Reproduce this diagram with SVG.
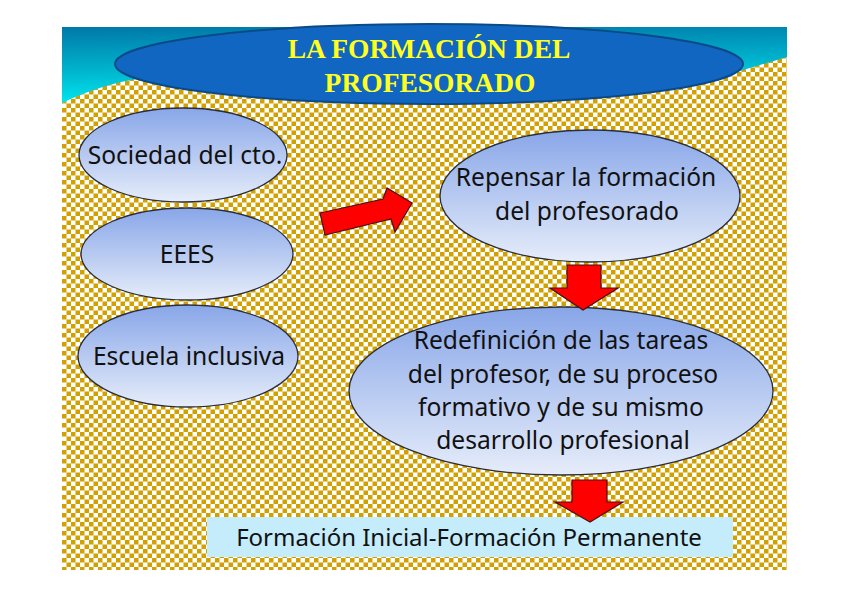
<svg xmlns="http://www.w3.org/2000/svg" width="848" height="599" viewBox="0 0 848 599">
<defs>
<pattern id="checker" x="62" y="27" width="9" height="9" patternUnits="userSpaceOnUse">
<rect width="9" height="9" fill="#ffffff"/>
<rect width="4.5" height="4.5" fill="#D2A000"/>
<rect x="4.5" y="4.5" width="4.5" height="4.5" fill="#D2A000"/>
</pattern>
<linearGradient id="teal" x1="0" y1="0" x2="0.15" y2="1">
<stop offset="0" stop-color="#0078A8"/>
<stop offset="0.6" stop-color="#00B8D0"/>
<stop offset="1" stop-color="#00E8F0"/>
</linearGradient>
<linearGradient id="bubble" x1="0" y1="0" x2="0" y2="1">
<stop offset="0" stop-color="#88A6E8"/>
<stop offset="1" stop-color="#E6EDFA"/>
</linearGradient>
<style>
.node{fill:url(#bubble);stroke:#2A2E3A;stroke-width:1.3}
.lbl{font-family:"Noto Sans","Open Sans",sans-serif;font-size:24.6px;fill:#111111;text-anchor:middle}
.arrow{fill:#FF0000;stroke:#4A1010;stroke-width:1.2;stroke-linejoin:miter}
.title{font-family:"Liberation Serif","Times New Roman",serif;font-weight:bold;font-size:27.5px;fill:#FFFF22;text-anchor:middle}
</style>
</defs>
<rect width="848" height="599" fill="#ffffff"/>
<rect x="62" y="27" width="725" height="543" fill="url(#checker)"/>
<path d="M62,27 H787 V57 L740,71 Q600,105 430,100 Q250,92 160,76 Q110,80 62,103 Z" fill="url(#teal)"/>
<g id="title">
<ellipse cx="429" cy="64" rx="314" ry="40" fill="#1066C0" stroke="#0B4A88" stroke-width="2"/>
<text class="title" x="429" y="58">LA FORMACIÓN DEL</text>
<text class="title" x="430" y="92">PROFESORADO</text>
</g>
<g id="sociedad">
<ellipse class="node" cx="183" cy="155" rx="104" ry="47"/>
<text class="lbl" x="185" y="164">Sociedad del cto.</text>
</g>
<g id="eees">
<ellipse class="node" cx="187" cy="254" rx="106" ry="46"/>
<text class="lbl" x="187" y="263">EEES</text>
</g>
<g id="escuela">
<ellipse class="node" cx="188" cy="356" rx="110" ry="51"/>
<text class="lbl" x="189" y="365">Escuela inclusiva</text>
</g>
<g id="repensar">
<ellipse class="node" cx="590" cy="196" rx="150" ry="66"/>
<text class="lbl" x="586" y="186">Repensar la formación</text>
<text class="lbl" x="587" y="220">del profesorado</text>
</g>
<g id="redefinicion">
<ellipse class="node" cx="561" cy="391" rx="212" ry="84"/>
<text class="lbl" x="561" y="349">Redefinición de las tareas</text>
<text class="lbl" x="563" y="383">del profesor, de su proceso</text>
<text class="lbl" x="561" y="416">formativo y de su mismo</text>
<text class="lbl" x="563" y="449">desarrollo profesional</text>
</g>
<g id="formacion">
<rect x="207" y="517" width="526" height="40" fill="#C4ECFA"/>
<text class="lbl" x="469" y="546" style="font-size:24px">Formación Inicial-Formación Permanente</text>
</g>
<g id="connectors">
<path class="arrow" d="M320,213 L383,199 L387,188 L412,203 L395,232 L391,219 L325,235 Z"/>
<path class="arrow" d="M567,265 H601 V288 H618 L583,310 L550,288 H567 Z"/>
<path class="arrow" d="M572,480 H607 V502 H623 L590,522 L555,502 H572 Z"/>
</g>
</svg>
